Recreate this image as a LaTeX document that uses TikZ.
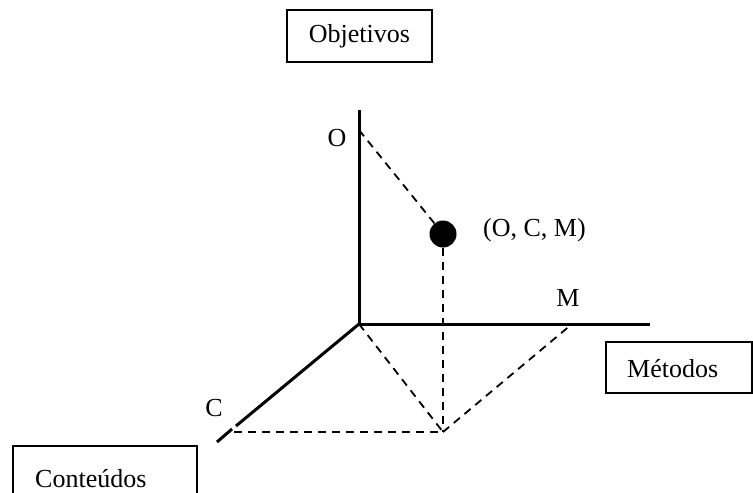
\documentclass[tikz,border=0pt]{standalone}
\usepackage{fontspec}
\setmainfont{Liberation Serif}
\begin{document}
\begin{tikzpicture}[x=1pt,y=-1pt,
  lbox/.style={draw,line width=1.5pt,inner sep=0pt,font=\fontsize{26}{30}\selectfont},
  axis/.style={line width=3pt},
  guide/.style={line width=1.8pt,dash pattern=on 8pt off 6pt},
  lab/.style={font=\fontsize{26}{30}\selectfont,inner sep=0pt}]
\useasboundingbox (0,0) rectangle (753,493);
% boxes
\node[lbox,minimum width=145pt,minimum height=52pt] (obj) at (359.5,36) {Objetivos};
\node[lbox,minimum width=146pt,minimum height=51pt] (met) at (679,367.5) {};
\node[lab,anchor=west] (metl) at (627,369) {M\'etodos};
\draw[line width=1.5pt] (13,505) |- (197,446) -- (197,505);
\node[lab,anchor=west] (conl) at (35,479) {Conte\'udos};
% axis points
\coordinate (orig) at (359,324);
\coordinate (otop) at (359,110);
\coordinate (o) at (359,130);
\coordinate (mend) at (650,324);
\coordinate (m) at (572,324);
\coordinate (c) at (236,426);
\coordinate (cend) at (217,442);
\coordinate (cgap) at (232,429);
\coordinate (p) at (443,432);
\coordinate (cfoot) at (234,432);
\node[circle,fill=black,minimum size=27pt,inner sep=0pt] (dot) at (443,234) {};
% axes
\draw[axis] (otop) -- (orig) -- (mend);
\draw[axis] (orig) -- (c);
\draw[axis] (cgap) -- (cend);
% guides
\draw[guide] (o) -- (dot);
\draw[guide] (dot) -- (p);
\draw[guide] (orig) -- (p);
\draw[guide] (cfoot) -- (p);
\draw[guide] (p) -- (m);
% labels
\node[lab] (ol) at (337,138) {O};
\node[lab] (ml) at (568,298) {M};
\node[lab] (cl) at (214,408) {C};
\node[lab,anchor=west] (pl) at (483,230) {(O, C, M)};
\end{tikzpicture}
\end{document}
